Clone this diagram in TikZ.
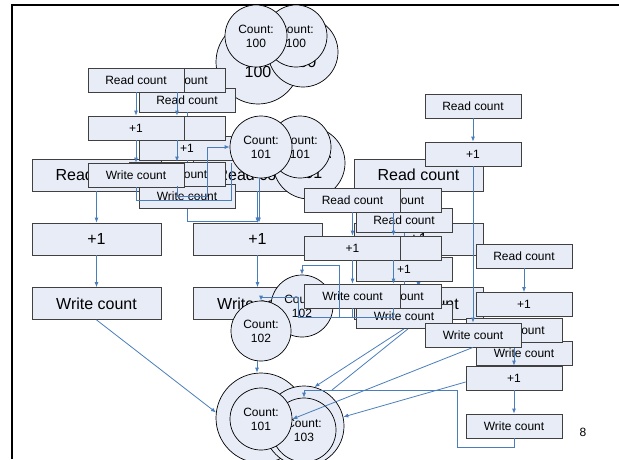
\documentclass[tikz,border=0pt]{standalone}
\usepackage{fontspec}
\setmainfont{Liberation Sans}
\usetikzlibrary{arrows.meta}
\definecolor{boxfill}{RGB}{231,236,246}
\definecolor{boxline}{RGB}{64,64,64}
\definecolor{linkblue}{RGB}{74,126,187}
\begin{document}
\begin{tikzpicture}[x=1pt,y=-1pt,
    bigbox/.style={draw=boxline,fill=boxfill,line width=0.8pt,minimum width=129pt,minimum height=32pt,inner sep=0pt,font=\fontsize{16}{19}\selectfont},
    smallbox/.style={draw=boxline,fill=boxfill,line width=0.8pt,minimum width=96pt,minimum height=24pt,inner sep=0pt,font=\fontsize{12}{14}\selectfont},
    cnt/.style={circle,draw,fill=boxfill,line width=0.7pt,minimum size=62pt,inner sep=0pt,align=center,font=\fontsize{12}{14}\selectfont},
    bigcnt/.style={cnt,minimum size=84pt,font=\fontsize{16}{20}\selectfont},
    link/.style={draw=linkblue,line width=0.8pt},
    >={Latex[length=5pt,width=4pt]}]
    \useasboundingbox (0,0) rectangle (619,459);
    % Slide frame
    \draw[line width=2pt] (12,459) -- (12,5) -- (619,5);
    \node[font=\fontsize{12}{14}\selectfont] (page) at (583,432) {8};
    % Large steps, three columns
    \node[bigbox] (Ard) at (96.5,175) {Read count};
    \node[bigbox] (Apl) at (96.5,239) {+1};
    \node[bigbox] (Awr) at (96.5,303.5) {Write count};
    \node[bigbox] (Brd) at (257.5,175) {Read count};
    \node[bigbox] (Bpl) at (257.5,239) {+1};
    \node[bigbox] (Bwr) at (257.5,303.5) {Write count};
    \node[bigbox] (Crd) at (418.5,175) {Read count};
    \node[bigbox] (Cpl) at (418.5,239) {+1};
    \node[bigbox] (Cwr) at (418.5,303.5) {Write count};
    \draw[link,->] (Ard) -- (Apl);
    \draw[link,->] (Apl) -- (Awr);
    \draw[link,->] (Brd) -- (Bpl);
    \draw[link,->] (Bpl) -- (Bwr);
    \draw[link,->] (Crd) -- (Cpl);
    \draw[link,->] (Cpl) -- (Cwr);
    % Large counters
    \node[bigcnt] (C100a) at (258,62) {Count:\\100};
    \node[bigcnt,minimum size=70pt] (C100b) at (303,52) {Count:\\100};
    \node[bigcnt,minimum size=72pt] (C101) at (309,163) {Count:\\101};
    \node[bigcnt,minimum size=90pt] (C101out) at (261,418) {Count:\\101};
    \node[bigcnt,minimum size=80pt] (C103) at (304,426) {Count:\\103};
    % Left threads
    \node[smallbox] (L2rd) at (187,100) {Read count};
    \node[smallbox] (L2pl) at (187,148) {+1};
    \node[smallbox] (L2wr) at (187,196.5) {Write count};
    \draw[link,->] (L2rd) -- (L2pl);
    \draw[link,->] (L2pl) -- (L2wr);
    \node[smallbox] (L1brd) at (177,80) {Read count};
    \node[smallbox] (L1bpl) at (177,128) {+1};
    \node[smallbox] (L1bwr) at (177,174) {Write count};
    \node[smallbox] (L1rd) at (136,80) {Read count};
    \node[smallbox] (L1pl) at (136,128) {+1};
    \node[smallbox] (L1wr) at (136,175) {Write count};
    % Small counters
    \node[cnt] (c100b) at (296,36) {Count:\\100};
    \node[cnt] (c100a) at (256,36) {Count:\\100};
    \node[cnt] (c101b) at (300,147) {Count:\\101};
    \node[cnt] (c101a) at (261,147) {Count:\\101};
    \node[cnt] (c102b) at (302,306) {Count:\\102};
    \node[cnt,minimum size=60pt] (c102a) at (261,331) {Count:\\102};
    % Left-hand arrows
    \draw[link,->] (L1rd) -- (L1pl);
    \draw[link,->] (L1pl) -- (L1wr);
    \draw[link,->] (L1brd) -- (L1bpl);
    \draw[link,->] (L1bpl) -- (L1bwr);
    \coordinate (a1) at (231,163);
    \draw[link] (L1wr.south) -- ++(0,13) -| (a1);
    \draw[link,->] (L1bwr.south) -- ++(0,10) -| ([xshift=-22pt]c101a.west) -- (c101a.west);
    \draw[link,->] (L2wr.south) -- ++(0,12) -| (Bpl.north);
    \draw[link,->] ([xshift=-2pt]c101a.south) -- ([xshift=-2pt]c101a.south |- Bpl.north);
    \draw[link,->] ([xshift=-4pt]c102a.south) -- ([xshift=-4pt]c102a.south |- C101out.north);
    % Middle threads
    \node[smallbox] (M2rd) at (404,220.5) {Read count};
    \node[smallbox] (M2pl) at (404,269) {+1};
    \node[smallbox] (M2wr) at (404,316.5) {Write count};
    \draw[link,->] (M2rd) -- (M2pl);
    \draw[link,->] (M2pl) -- (M2wr);
    \node[smallbox] (M1brd) at (393.5,200) {Read count};
    \node[smallbox] (M1bpl) at (393.5,248) {+1};
    \node[smallbox] (M1bwr) at (393.5,296) {Write count};
    \node[smallbox] (M1rd) at (352.5,200) {Read count};
    \node[smallbox] (M1pl) at (352.5,248) {+1};
    \node[smallbox] (M1wr) at (352.5,296) {Write count};
    \draw[link,->] (M1rd) -- (M1pl);
    \draw[link,->] (M1pl) -- (M1wr);
    \draw[link,->] (M1brd) -- (M1bpl);
    \draw[link,->] (M1bpl) -- (M1bwr);
    \draw[link,->] (M1wr.south) -- ++(0,9) -| (298,297) -| (c102a.north);
    \draw[link,->] (M1bwr.south) -- ++(0,9) -| (339,265) -| (c102b.north);
    % Right-hand threads
    \node[smallbox] (R2rd) at (524,256) {Read count};
    \node[smallbox] (R2pl) at (524,304.5) {+1};
    \node[smallbox] (R2wr) at (524,353) {Write count};
    \draw[link,->] (R2rd) -- (R2pl);
    \node[smallbox] (R3rd) at (514,330) {Read count};
    \node[smallbox] (R3pl) at (514,378) {+1};
    \node[smallbox] (R3wr) at (514,426) {Write count};
    \draw[link,->] (R3rd) -- (R3pl);
    \draw[link,->] (R3pl) -- (R3wr);
    \node[smallbox] (R1rd) at (473,106) {Read count};
    \node[smallbox] (R1pl) at (473,154) {+1};
    \node[smallbox] (R1wr) at (473,335) {Write count};
    \draw[link,->] (R1rd) -- (R1pl);
    \draw[link,->] (R1pl) -- (R1wr);
    % Final counters
    \node[cnt,minimum size=64pt] (c103) at (304,430) {Count:\\103};
    \node[cnt] (c101in) at (261,419) {Count:\\101};
    % Arrows into the final counters
    \coordinate (e1) at (332,390);
    \draw[link,->] (Awr.south) -- (C101out.173);
    \draw[link,->] (M2wr.south) -- (C103.75);
    \draw[link] ([xshift=4pt]M2wr.south) -- (e1);
    \draw[link,->] (R1wr.south) -- (c101in.east);
    \draw[link,->] ([yshift=-4pt]R3pl.west) -- (C103.13);
    \draw[link,->] (R3wr.south) -- ++(0,9) -| (457,390) -| (c103.north);
\end{tikzpicture}
\end{document}
